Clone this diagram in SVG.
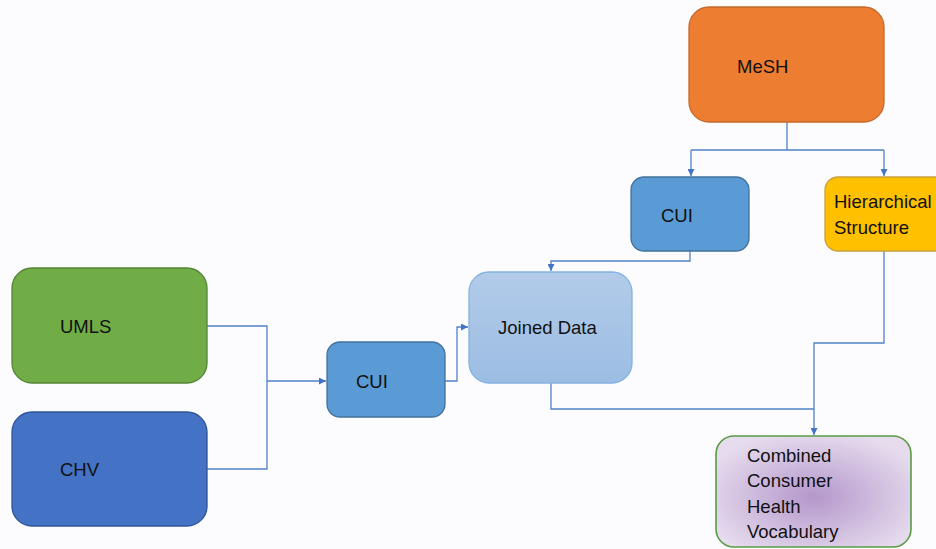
<svg xmlns="http://www.w3.org/2000/svg" width="936" height="549" viewBox="0 0 936 549">
<style>
text{font-family:"Liberation Sans",Arial,sans-serif;font-size:18.5px;fill:#111}
.c{fill:none;stroke:#4f81c9;stroke-width:1.3}
</style>
<defs>
<marker id="ah" viewBox="0 0 10 10" refX="10" refY="5" markerWidth="7" markerHeight="7" markerUnits="userSpaceOnUse" orient="auto"><path d="M0,0L10,5L0,10z" fill="#4472c4"/></marker>
<linearGradient id="jg" x1="0" y1="0" x2="0" y2="1"><stop offset="0" stop-color="#b2cbe9"/><stop offset="1" stop-color="#9cbde3"/></linearGradient>
<radialGradient id="pg" cx="0.5" cy="0.55" r="0.6"><stop offset="0" stop-color="#b497cb"/><stop offset="1" stop-color="#e6dcee"/></radialGradient>
</defs>
<rect width="936" height="549" fill="#fcfcfe"/>
<g id="connectors">
<path class="c" d="M787,122V150M691,150H884M691,150V176" marker-end="url(#ah)"/>
<path class="c" d="M884,150V176" marker-end="url(#ah)"/>
<path class="c" d="M690,251V261H551V271" marker-end="url(#ah)"/>
<path class="c" d="M207,326H267V469H207"/>
<path class="c" d="M267,381H326" marker-end="url(#ah)"/>
<path class="c" d="M445,381H457V327H468" marker-end="url(#ah)"/>
<path class="c" d="M551,383V409H814"/>
<path class="c" d="M884,251V343H814V435" marker-end="url(#ah)"/>
</g>
<g id="mesh"><rect x="689" y="7" width="195" height="115" rx="20" fill="#ed7d31" stroke="#c4692c" stroke-width="1.3"/><text x="737" y="73">MeSH</text></g>
<g id="cui-top"><rect x="631" y="177" width="118" height="74" rx="13" fill="#5b9bd5" stroke="#41719c" stroke-width="1.3"/><text x="661" y="222">CUI</text></g>
<g id="hier"><rect x="825" y="177" width="130" height="74" rx="13" fill="#ffc000" stroke="#c9a03a" stroke-width="1.3"/><text x="834" y="208">Hierarchical</text><text x="834" y="234">Structure</text></g>
<g id="joined"><rect x="469" y="272" width="163" height="111" rx="20" fill="url(#jg)" stroke="#82b2e2" stroke-width="1.3"/><text x="498" y="334">Joined Data</text></g>
<g id="umls"><rect x="12" y="268" width="195" height="115" rx="20" fill="#70ad47" stroke="#548235" stroke-width="1.3"/><text x="60" y="333">UMLS</text></g>
<g id="chv"><rect x="12" y="412" width="195" height="114" rx="20" fill="#4472c4" stroke="#2f5597" stroke-width="1.3"/><text x="60" y="476">CHV</text></g>
<g id="cui-low"><rect x="327" y="342" width="118" height="75" rx="13" fill="#5b9bd5" stroke="#41719c" stroke-width="1.3"/><text x="356" y="388">CUI</text></g>
<g id="combined"><rect x="716" y="436" width="195" height="111" rx="18" fill="url(#pg)" stroke="#5a9a46" stroke-width="1.6"/><text x="747" y="462">Combined</text><text x="747" y="487">Consumer</text><text x="747" y="513">Health</text><text x="747" y="538">Vocabulary</text></g>
</svg>
